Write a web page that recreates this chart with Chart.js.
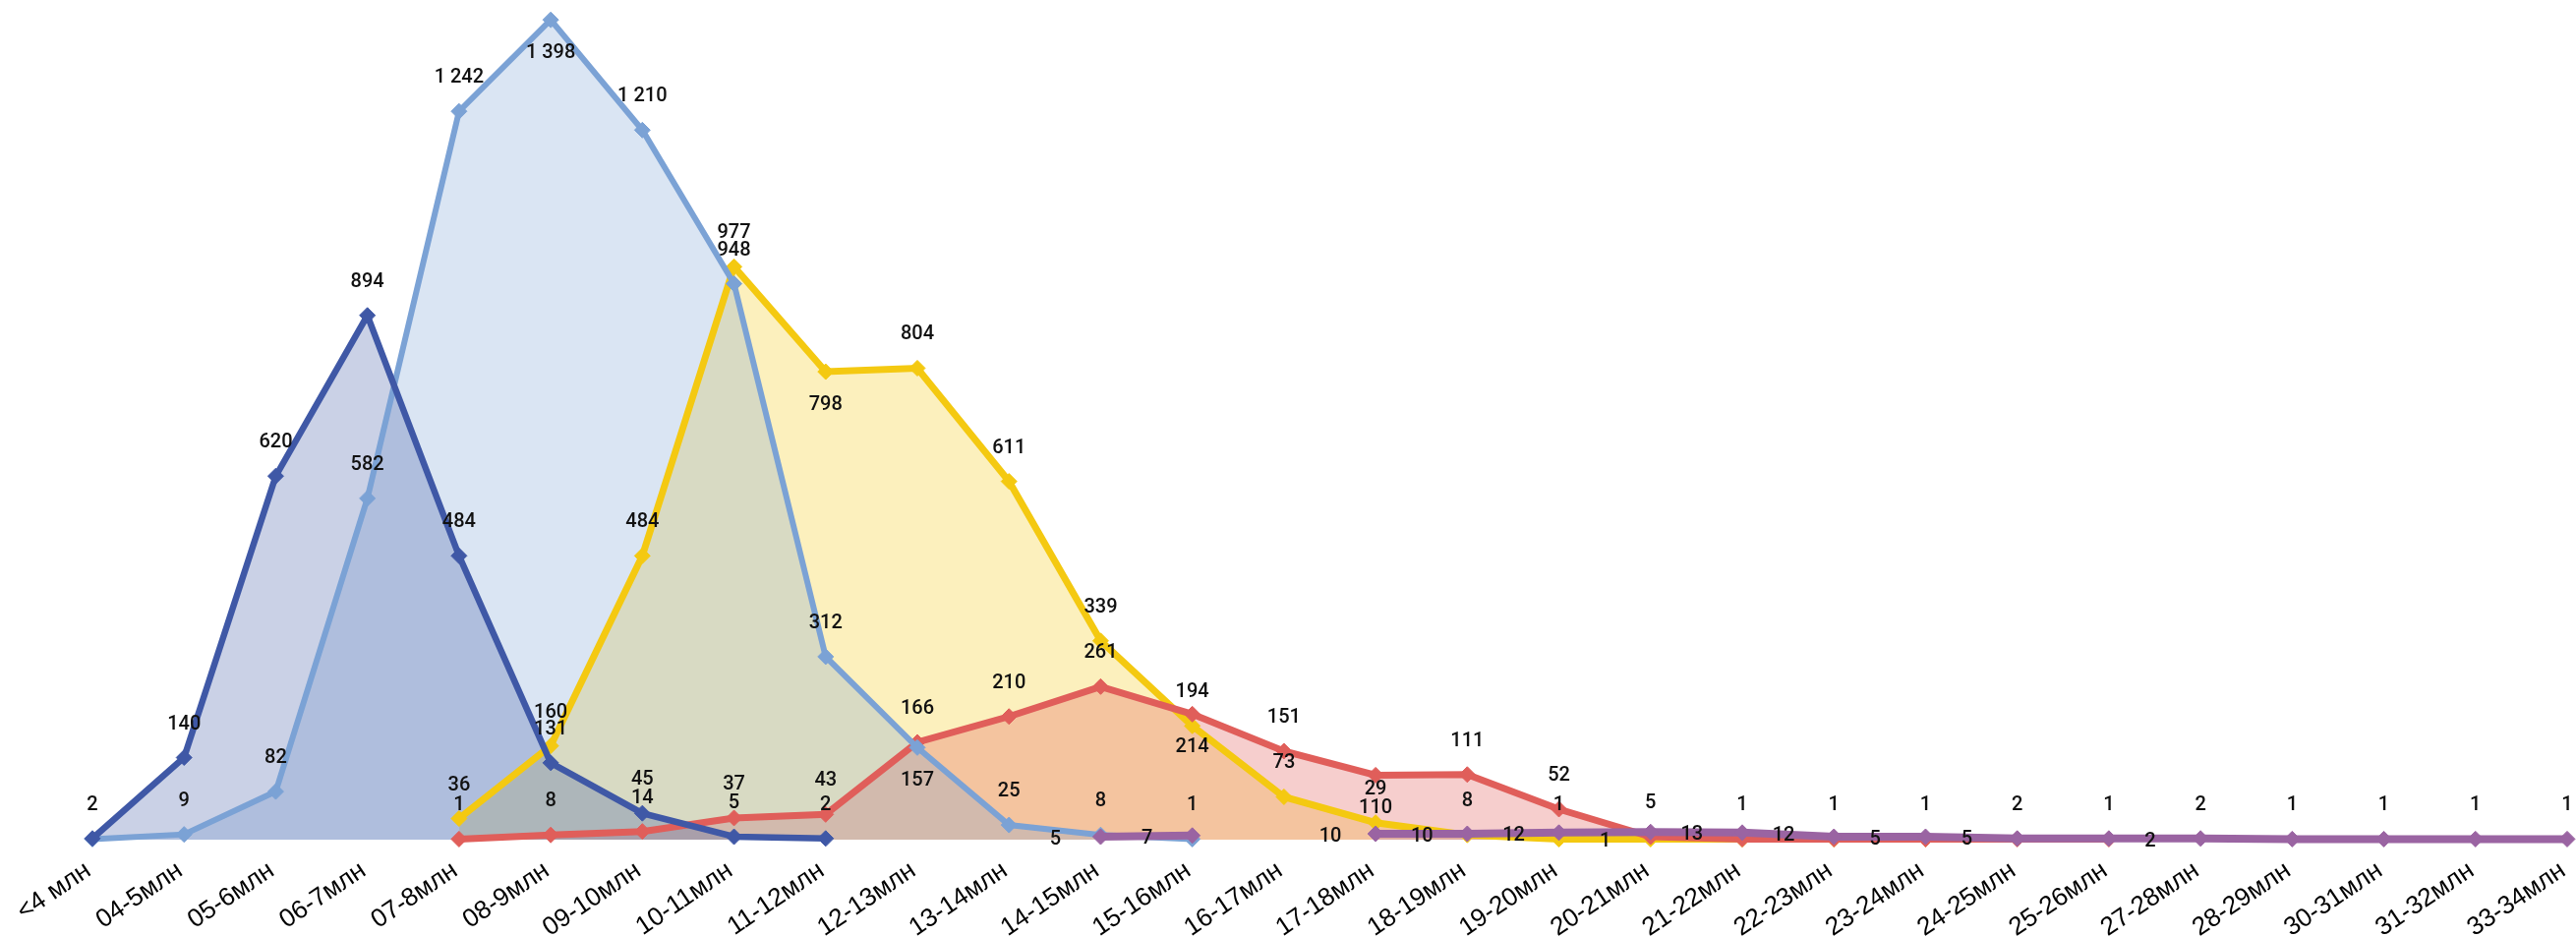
<!DOCTYPE html>
<html lang="ru">
<head>
<meta charset="utf-8">
<title>Распределение по цене</title>
<script src="https://cdn.jsdelivr.net/npm/chart.js@4.4.1/dist/chart.umd.min.js"></script>
<style>
  html, body { margin: 0; padding: 0; background: #fff; overflow: hidden; }
  canvas { display: block; }
</style>
</head>
<body>
<canvas id="chart" width="2620" height="953"></canvas>
<script>
// --- категории по оси X ---
const categories = [
  '<4 млн', '04-5млн', '05-6млн', '06-7млн', '07-8млн', '08-9млн', '09-10млн',
  '10-11млн', '11-12млн', '12-13млн', '13-14млн', '14-15млн', '15-16млн', '16-17млн',
  '17-18млн', '18-19млн', '19-20млн', '20-21млн', '21-22млн', '22-23млн', '23-24млн',
  '24-25млн', '25-26млн', '27-28млн', '28-29млн', '30-31млн', '31-32млн', '33-34млн'
];

const _ = null;

// --- значения серий (по картинке) ---
const darkBlue  = [2, 140, 620, 894, 484, 131, 45, 5, 2, _, _, _, _, _, _, _, _, _, _, _, _, _, _, _, _, _, _, _];
const lightBlue = [1, 9, 82, 582, 1242, 1398, 1210, 948, 312, 157, 25, 8, 1, _, _, _, _, _, _, _, _, _, _, _, _, _, _, _];
const yellow    = [_, _, _, _, 36, 160, 484, 977, 798, 804, 611, 339, 194, 73, 29, 8, 1, 1, 1, 1, 1, _, _, _, _, _, _, _];
const red       = [_, _, _, _, 1, 8, 14, 37, 43, 166, 210, 261, 214, 151, 110, 111, 52, 5, 1, 1, 1, 1, 1, _, _, _, _, _];
const purple    = [_, _, _, _, _, _, _, _, _, _, _, 5, 7, _, 10, 10, 12, 13, 12, 5, 5, 2, 2, 2, 1, 1, 1, 1];

// --- где рисовать подписи (по умолчанию над точкой) ---
const posDarkBlue  = {};
const posLightBlue = { 0: 'none', 5: 'below', 9: 'below' };
const posYellow    = { 8: 'below', 17: 'left' };
const posRed       = { 12: 'below', 14: 'below', 18: 'none', 19: 'none', 20: 'none', 21: 'none' };
const posPurple    = { 11: 'left', 12: 'left', 14: 'left', 15: 'left', 16: 'left',
                       17: 'right', 18: 'right', 19: 'right', 20: 'right', 22: 'right' };

function fmt(v) {
  return String(v).replace(/\B(?=(\d{3})+(?!\d))/g, ' ');
}

function series(data, color, fillColor, width, labelPos) {
  return {
    data,
    borderColor: color,
    backgroundColor: fillColor,
    borderWidth: width,
    fill: 'origin',
    tension: 0,
    pointStyle: 'rectRot',
    pointRadius: 8,
    pointBackgroundColor: color,
    pointBorderColor: color,
    pointBorderWidth: 1,
    clip: false,
    labelPos
  };
}

// подписи значений
const valueLabels = {
  id: 'valueLabels',
  afterDatasetsDraw(chart) {
    const ctx = chart.ctx;
    ctx.save();
    ctx.font = '500 20px Roboto';
    ctx.fillStyle = '#111';
    ctx.textAlign = 'center';
    ctx.textBaseline = 'middle';
    chart.data.datasets.forEach((ds, i) => {
      const meta = chart.getDatasetMeta(i);
      meta.data.forEach((pt, j) => {
        const v = ds.data[j];
        if (v == null) return;
        const pos = ds.labelPos[j] || 'above';
        if (pos === 'none') return;
        let x = pt.x, y = pt.y;
        if (pos === 'above') y -= 34;
        else if (pos === 'below') y += 34;
        else if (pos === 'left') { x -= 46; y += 3; }
        else if (pos === 'right') { x += 42; y += 3; }
        ctx.fillText(fmt(v), x, y);
      });
    });
    ctx.restore();
  }
};

new Chart(document.getElementById('chart'), {
  type: 'line',
  data: {
    labels: categories,
    // первый в списке рисуется поверх остальных
    datasets: [
      series(purple,    '#9A64A2', 'rgba(154,100,162,0.25)', 8, posPurple),
      series(darkBlue,  '#3F58A6', 'rgba(63,88,166,0.28)',  6.5, posDarkBlue),
      series(lightBlue, '#7BA2D5', 'rgba(123,162,213,0.28)', 6, posLightBlue),
      series(red,       '#E05E5A', 'rgba(224,94,90,0.30)',  7, posRed),
      series(yellow,    '#F4C911', 'rgba(244,201,17,0.28)', 7, posYellow)
    ]
  },
  options: {
    responsive: false,
    animation: false,
    devicePixelRatio: 1,
    layout: { padding: { left: 94, right: 0, top: 19, bottom: 0 } },
    plugins: {
      legend: { display: false },
      tooltip: { enabled: false },
      // заливки под всеми линиями, как в Excel
      filler: { drawTime: 'beforeDatasetsDraw' }
    },
    scales: {
      x: {
        offset: false,
        grid: { display: false, drawTicks: false },
        border: { display: false },
        ticks: {
          autoSkip: false,
          minRotation: 34,
          maxRotation: 34,
          padding: 16,
          labelOffset: -4,
          color: '#000',
          font: { family: 'Liberation Sans', size: 26 }
        },
        afterFit(scale) {
          scale.height = 99;
          scale.paddingLeft = 0;
          scale.paddingRight = 0;
        }
      },
      y: { display: false, min: 0, max: 1400 }
    }
  },
  plugins: [valueLabels]
});
</script>
</body>
</html>
